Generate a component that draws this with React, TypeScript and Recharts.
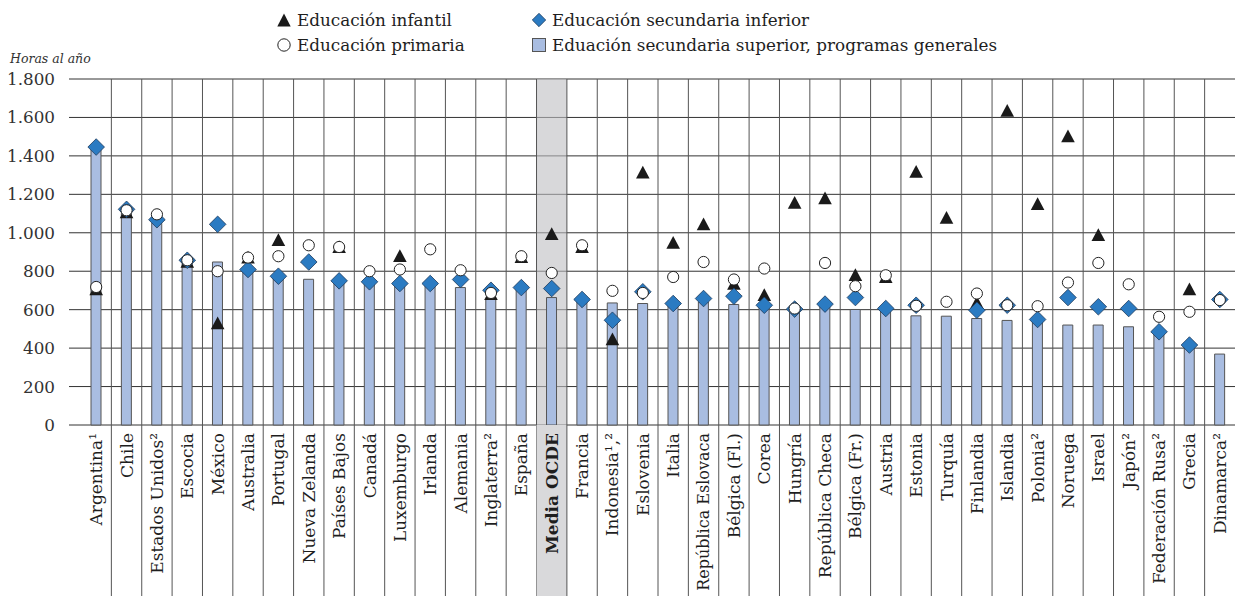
import React from 'react';
import { ComposedChart, Bar, Line, XAxis, YAxis, CartesianGrid, ReferenceArea } from 'recharts';

const countries = [
  'Argentina¹', 'Chile', 'Estados Unidos²', 'Escocia', 'México', 'Australia', 'Portugal',
  'Nueva Zelanda', 'Países Bajos', 'Canadá', 'Luxemburgo', 'Irlanda', 'Alemania', 'Inglaterra²',
  'España', 'Media OCDE', 'Francia', 'Indonesia¹,²', 'Eslovenia', 'Italia', 'República Eslovaca',
  'Bélgica (Fl.)', 'Corea', 'Hungría', 'República Checa', 'Bélgica (Fr.)', 'Austria', 'Estonia',
  'Turquía', 'Finlandia', 'Islandia', 'Polonia²', 'Noruega', 'Israel', 'Japón²', 'Federación Rusa²',
  'Grecia', 'Dinamarca²',
];

// Educación infantil (triángulos)
const infantil = [
  705, 1105, null, 848, 528, 870, 961, null, 925, null, 878, null, null, 680,
  873, 992, 925, 445, 1312, 947, 1043, 733, 675, 1155, 1178, 779, 769, 1316,
  1077, 635, 1633, 1148, 1501, 987, null, null, 705, null,
];

// Educación primaria (círculos)
const primaria = [
  718, 1117, 1096, 857, 800, 871, 878, 935, 926, 800, 809, 914, 805, 687,
  878, 791, 935, 698, 687, 770, 848, 757, 814, 606, 843, 722, 779, 620,
  641, 684, 623, 618, 741, 843, 732, 563, 589, 650,
];

// Educación secundaria inferior (rombos)
const inferior = [
  1446, 1122, 1068, 857, 1044, 809, 774, 848, 750, 745, 736, 736, 757, 701,
  715, 710, 653, 545, 693, 632, 658, 670, 623, 603, 629, 663, 606, 623,
  null, 597, 623, 549, 663, 615, 606, 485, 416, 653,
];

// Educación secundaria superior, programas generales (barras)
const superior = [
  1440, 1100, 1050, 840, 848, 800, 770, 758, 740, 740, 730, 730, 715, 653,
  710, 663, 645, 635, 632, 625, 640, 627, 615, 600, 620, 601, 600, 568,
  566, 554, 544, 545, 520, 520, 511, 475, 405, 369,
];

const yTicks = [0, 200, 400, 600, 800, 1000, 1200, 1400, 1600, 1800];

const data = countries.map((name, i) => ({
  name,
  infantil: infantil[i],
  primaria: primaria[i],
  inferior: inferior[i],
  superior: superior[i],
}));

const FONT = '"DejaVu Serif", serif';
const PLOT_TOP = 79;
const CHART_W = 1235;
const CHART_H = 596;
const AXIS_Y = 425;
const HIGHLIGHT = 'Media OCDE';

const fmt = (v: number) =>
  v >= 1000 ? `${Math.floor(v / 1000)}.${String(v % 1000).padStart(3, '0')}` : String(v);

function CategoryTick(props: any) {
  const { x, payload, index } = props;
  const half = payload?.offset || 15.2;
  const label = String(payload.value);
  const isMedia = label === HIGHLIGHT;
  const y0 = 433;
  // the longest name would run past the bottom edge otherwise
  const size = label.length > 17 ? 16 : 17;
  return (
    <g>
      {isMedia && (
        <rect x={x - half} y={AXIS_Y} width={half * 2} height={CHART_H - AXIS_Y} fill="#d9d9db" />
      )}
      {index < countries.length - 1 && (
        <line x1={x + half} x2={x + half} y1={PLOT_TOP} y2={CHART_H} stroke="#555" strokeWidth={1} />
      )}
      <text
        x={x}
        y={y0}
        transform={`rotate(-90, ${x}, ${y0})`}
        textAnchor="end"
        dominantBaseline="central"
        fontFamily={FONT}
        fontSize={size}
        fontWeight={isMedia ? 'bold' : 'normal'}
        fill="#1e1e1e"
      >
        {label}
      </text>
    </g>
  );
}

const triangle = (p: any) => {
  const { cx, cy, value, index } = p;
  if (value == null || cy == null) return <g key={`t${index}`} />;
  return (
    <polygon
      key={`t${index}`}
      points={`${cx},${cy - 7} ${cx + 6.8},${cy + 5.7} ${cx - 6.8},${cy + 5.7}`}
      fill="#1a1a1a"
    />
  );
};

const circle = (p: any) => {
  const { cx, cy, value, index } = p;
  if (value == null || cy == null) return <g key={`c${index}`} />;
  return <circle key={`c${index}`} cx={cx} cy={cy} r={5.6} fill="#fff" stroke="#222" strokeWidth={1} />;
};

const diamond = (p: any) => {
  const { cx, cy, value, index } = p;
  if (value == null || cy == null) return <g key={`d${index}`} />;
  return (
    <polygon
      key={`d${index}`}
      points={`${cx},${cy - 8.3} ${cx + 8.3},${cy} ${cx},${cy + 8.3} ${cx - 8.3},${cy}`}
      fill="#2b7bc2"
      stroke="#1d3a5c"
      strokeWidth={0.8}
    />
  );
};

function LegendItem({ icon, label, x, y }: { icon: React.ReactNode; label: string; x: number; y: number }) {
  return (
    <div style={{ position: 'absolute', left: x, top: y, display: 'flex', alignItems: 'center', whiteSpace: 'nowrap' }}>
      <svg width={16} height={16} style={{ marginRight: 5 }}>
        {icon}
      </svg>
      <span style={{ fontFamily: FONT, fontSize: 16.8, color: '#1e1e1e' }}>{label}</span>
    </div>
  );
}

export default function App() {
  return (
    <div style={{ position: 'absolute', left: 0, top: 0, width: CHART_W, height: CHART_H, background: '#fff', overflow: 'hidden' }}>
      <LegendItem x={276} y={10} label="Educación infantil" icon={<polygon points="8,1.5 14.7,14.5 1.3,14.5" fill="#1a1a1a" />} />
      <LegendItem x={276} y={35} label="Educación primaria" icon={<circle cx={8} cy={8} r={6.2} fill="#fff" stroke="#222" />} />
      <LegendItem x={531} y={10} label="Educación secundaria inferior" icon={<polygon points="8,1.3 14.7,8 8,14.7 1.3,8" fill="#2b7bc2" stroke="#1d3a5c" strokeWidth={0.8} />} />
      <LegendItem x={531} y={35} label="Eduación secundaria superior, programas generales" icon={<rect x={1.5} y={1.5} width={13} height={13} fill="#a9bde1" stroke="#555" />} />
      <div style={{ position: 'absolute', left: 10, top: 51, fontFamily: FONT, fontStyle: 'italic', fontSize: 12.5, color: '#333' }}>
        Horas al año
      </div>
      <ComposedChart
        width={CHART_W}
        height={CHART_H}
        data={data}
        margin={{ top: PLOT_TOP, right: 0, bottom: 0, left: 0 }}
        barCategoryGap={0}
      >
        <ReferenceArea x1={HIGHLIGHT} x2={HIGHLIGHT} fill="#bebec1" fillOpacity={0.6} stroke="none" />
        <CartesianGrid vertical={false} stroke="#333" strokeWidth={1} />
        <XAxis
          dataKey="name"
          type="category"
          interval={0}
          height={CHART_H - AXIS_Y}
          padding={{ left: 12, right: 0 }}
          axisLine={false}
          tickLine={false}
          tick={<CategoryTick />}
        />
        <YAxis
          width={69}
          domain={[0, 1800]}
          ticks={yTicks}
          interval={0}
          axisLine={false}
          tickLine={false}
          tickFormatter={fmt}
          tick={{ fontFamily: FONT, fontSize: 16.8, fill: '#333' }}
          tickMargin={8}
        />
        <Bar dataKey="superior" barSize={10} fill="#a9bde1" stroke="#555" strokeWidth={1} isAnimationActive={false} />
        <Line dataKey="infantil" stroke="none" dot={triangle} activeDot={false} isAnimationActive={false} />
        <Line dataKey="inferior" stroke="none" dot={diamond} activeDot={false} isAnimationActive={false} />
        <Line dataKey="primaria" stroke="none" dot={circle} activeDot={false} isAnimationActive={false} />
      </ComposedChart>
    </div>
  );
}
